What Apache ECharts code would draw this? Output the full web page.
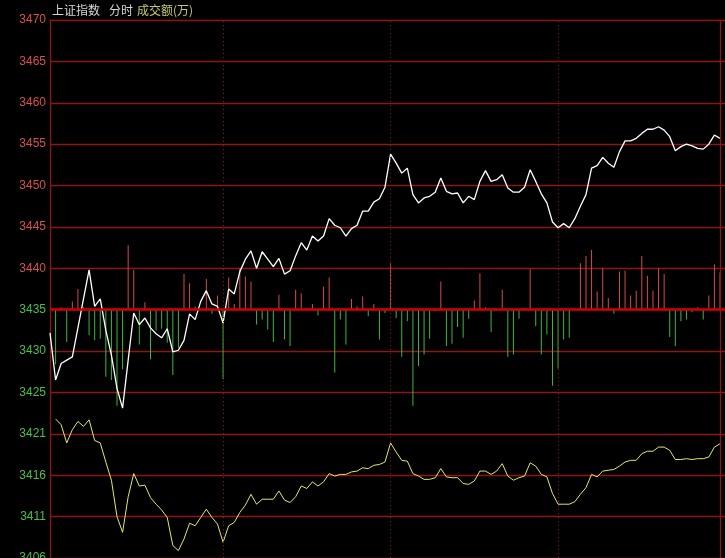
<!DOCTYPE html>
<html>
<head>
<meta charset="utf-8">
<script src="https://cdn.jsdelivr.net/npm/echarts@6/dist/echarts.min.js"></script>
<style>html,body{margin:0;padding:0;background:#000;}#c{width:725px;height:558px;}</style>
</head>
<body>
<div id="c"></div>
<script>
// Y tick labels (bottom to top) as printed on the chart
const yTickLabels = ['3406','3411','3416','3421','3425','3430','3435','3440','3445','3450','3455','3460','3465','3470'];
// Index (white line), one point per 2 minutes, 121 points
const indexValues = [
3432.2,3426.5,3428.5,3428.9,3429.3,3432.8,3436.3,3439.8,3435.4,3436.3,
3432.5,3429.5,3425.5,3423.1,3428.9,3434.6,3433.2,3434.0,3432.8,3432.1,
3431.6,3432.7,3429.9,3430.1,3431.3,3434.5,3433.8,3436.0,3437.3,3435.7,
3435.4,3433.4,3437.5,3436.9,3439.6,3441.1,3442.1,3440.0,3442.0,3441.1,
3440.2,3441.2,3439.3,3439.7,3441.5,3443.1,3442.2,3443.9,3443.3,3443.9,
3446.0,3445.2,3444.9,3443.9,3444.8,3445.2,3446.9,3446.9,3448.0,3448.4,
3449.8,3453.8,3452.7,3451.5,3452.1,3448.9,3447.9,3448.5,3448.7,3449.2,
3450.9,3449.3,3449.0,3449.1,3447.9,3448.7,3448.3,3450.5,3451.8,3450.5,
3450.7,3451.3,3449.7,3449.2,3449.2,3449.8,3451.9,3450.5,3449.0,3447.9,
3445.6,3444.9,3445.4,3444.9,3446.0,3447.5,3448.9,3452.1,3452.4,3453.4,
3452.7,3452.2,3454.1,3455.4,3455.4,3455.7,3456.3,3456.8,3456.8,3457.1,
3456.7,3455.9,3454.2,3454.7,3455.0,3454.8,3454.5,3454.4,3455.0,3456.1,
3455.7];
// Yellow line (read in the lower label units)
const yellowValues = [
null,3422.8,3422.1,3419.9,3421.5,3422.5,3421.9,3422.7,3420.2,3419.9,
3417.6,3415.4,3411.0,3409.1,3413.4,3416.2,3414.7,3414.8,3413.3,3412.5,
3411.8,3410.9,3407.5,3406.9,3408.3,3410.2,3409.9,3410.9,3411.9,3410.9,
3410.1,3407.9,3409.9,3410.3,3411.5,3412.4,3413.7,3412.5,3413.1,3413.1,
3413.1,3414.1,3413.0,3412.7,3413.4,3414.7,3414.4,3415.2,3414.7,3415.2,
3416.2,3415.9,3416.1,3416.1,3416.4,3416.5,3416.9,3416.8,3417.2,3417.3,
3417.6,3419.9,3418.8,3417.8,3417.7,3416.2,3415.9,3415.5,3415.5,3415.7,
3416.8,3415.8,3415.7,3415.7,3415.0,3414.9,3415.3,3416.5,3416.5,3416.1,
3416.5,3417.4,3415.9,3415.4,3415.7,3415.9,3417.5,3417.1,3416.1,3415.8,
3413.8,3412.5,3412.5,3412.5,3412.8,3413.7,3414.5,3416.1,3415.8,3416.5,
3416.6,3416.7,3417.1,3417.6,3417.8,3417.8,3418.6,3418.9,3418.9,3419.4,
3419.4,3419.0,3417.9,3417.9,3418.0,3417.9,3418.0,3418.0,3418.2,3419.4,
3419.8];
// Red/green bars around the 3435 line (in index points)
const barValues = [
null,-6.6,0.3,-3.9,1.0,2.5,0.3,-3.1,-3.7,-3.5,
-8.1,-8.5,-11.6,-7.2,7.8,4.8,-4.2,0.9,-6.0,-2.5,
-2.3,-4.0,-7.9,-4.6,4.3,3.2,0.4,0,3.7,-0.5,
1.7,-8.4,3.9,0.7,5.0,4.0,3.4,-1.8,-1.2,-2.4,
-3.9,1.8,-3.6,-4.4,2.4,2.0,0.2,0.7,-0.7,2.8,
3.9,-7.6,-1.2,-4.2,1.3,0.4,1.6,-0.8,0.7,-3.6,
-0.4,5.6,-1.0,-5.7,-1.4,-11.6,-6.8,-5.4,-3.5,-0.2,
3.4,-4.4,-4.1,-2.1,-3.4,-1.1,1.1,4.4,0.3,-2.7,
-0.1,2.4,-5.7,-5.4,-1.1,0.2,4.9,-2.0,-5.4,-3.0,
-9.2,-7.1,-3.6,-3.4,0,5.6,6.5,7.2,2.2,5.0,
1.4,-0.5,4.6,4.7,1.7,2.3,6.5,4.1,2.3,5.0,
4.3,-3.3,-4.4,-1.4,-1.2,-0.3,0.3,-1.2,1.7,5.5,
4.5];
const hourMarks = [31, 61, 91];
const lastIndex = 120;

const gridColor = '#8e1616';
const chart = echarts.init(document.getElementById('c'), null, {renderer: 'canvas'});
const pairs = arr => arr.map((v, i) => [i, v]);

chart.setOption({
  backgroundColor: '#000',
  animation: false,
  graphic: [
    {type: 'text', left: 52, top: 4, style: {text: '上证指数', fill: '#d8d8d8', font: '12px "Noto Sans CJK SC"'}},
    {type: 'text', left: 109, top: 4, style: {text: '分时', fill: '#d8d8d8', font: '12px "Noto Sans CJK SC"'}},
    {type: 'text', left: 137, top: 4, style: {text: '成交额(万)', fill: '#c8c870', font: '12px "Noto Sans CJK SC"'}}
  ],
  grid: {left: 50, right: 0, top: 20, bottom: 0, containLabel: false, outerBoundsMode: 'none'},
  xAxis: {type: 'value', min: 0, max: 120.9, show: false},
  yAxis: [
    {
      type: 'value', min: 3405, max: 3470, interval: 5,
      axisLine: {show: true, lineStyle: {color: gridColor, width: 1.3}},
      axisTick: {show: false},
      splitLine: {show: true, lineStyle: {color: gridColor, width: 1.3}},
      axisLabel: {
        margin: 4, fontSize: 12, fontFamily: 'Liberation Sans',
        formatter: v => yTickLabels[Math.round((v - 3405) / 5)],
        color: v => v > 3435 ? '#d85050' : (v === 3435 ? '#ffffff' : '#48c048')
      }
    },
    {type: 'value', min: 3406, max: 3471, show: false},
    {type: 'value', min: -30, max: 35, show: false}
  ],
  series: [
    {
      type: 'bar', yAxisIndex: 2, data: pairs(barValues), barWidth: 1,
      itemStyle: {color: p => p.value[1] >= 0 ? '#d44a4a' : '#3cb83c'},
      silent: true,
      markLine: {
        silent: true, symbol: 'none', label: {show: false},
        lineStyle: {color: '#d00000', width: 2.6, type: 'solid'},
        data: [{yAxis: 0}]
      }
    },
    {
      type: 'line', yAxisIndex: 1, data: pairs(yellowValues), showSymbol: false,
      lineStyle: {color: '#e8e860', width: 1}, silent: true
    },
    {
      type: 'line', yAxisIndex: 0, data: pairs(indexValues), showSymbol: false,
      lineStyle: {color: '#ffffff', width: 1.3}, silent: true,
      markLine: {
        silent: true, symbol: 'none', label: {show: false},
        data: hourMarks.map(h => ({xAxis: h, lineStyle: {color: gridColor, width: 1, type: [1, 3]}}))
          .concat([{xAxis: lastIndex, lineStyle: {color: gridColor, width: 1.3, type: 'solid'}}])
      }
    }
  ]
});
</script>
</body>
</html>
